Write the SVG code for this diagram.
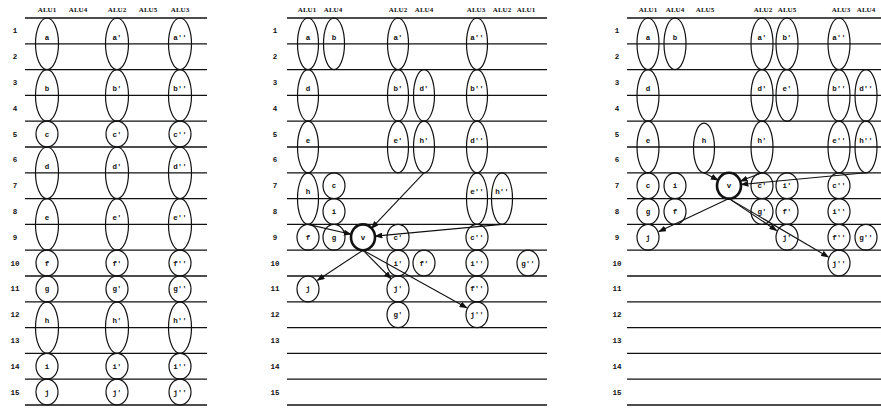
<svg xmlns="http://www.w3.org/2000/svg" width="881" height="409" viewBox="0 0 881 409">
<style>
.bg{fill:#fff}
.grid line{stroke:#111;stroke-width:1.3}
.n ellipse{fill:none;stroke:#111;stroke-width:1.2}
.v ellipse{fill:none;stroke:#111;stroke-width:2.6}
.n text,.v text{font-family:"Liberation Mono",monospace;font-size:7.5px;font-weight:bold;fill:#111;text-anchor:middle}
.hdr text{font-family:"Liberation Serif",serif;font-size:7px;font-weight:bold;fill:#111;text-anchor:middle}
.rows text{font-family:"Liberation Mono",monospace;font-size:7.5px;font-weight:bold;fill:#111;text-anchor:middle}
.conn line{stroke:#111;stroke-width:1.1;marker-end:url(#arr)}
</style>
<defs>
<marker id="arr" markerUnits="userSpaceOnUse" markerWidth="8" markerHeight="6" refX="7" refY="3" orient="auto"><path d="M0,0 L8,3 L0,6 z" fill="#111"/></marker>
</defs>
<rect class="bg" x="0" y="0" width="881" height="409"/>

<!-- grids -->
<g class="grid" id="grid1">
<line x1="25" y1="18" x2="207" y2="18"/><line x1="25" y1="43.8" x2="207" y2="43.8"/><line x1="25" y1="69.6" x2="207" y2="69.6"/><line x1="25" y1="95.4" x2="207" y2="95.4"/><line x1="25" y1="121.2" x2="207" y2="121.2"/><line x1="25" y1="147" x2="207" y2="147"/><line x1="25" y1="172.8" x2="207" y2="172.8"/><line x1="25" y1="198.6" x2="207" y2="198.6"/><line x1="25" y1="224.4" x2="207" y2="224.4"/><line x1="25" y1="250.2" x2="207" y2="250.2"/><line x1="25" y1="276" x2="207" y2="276"/><line x1="25" y1="301.8" x2="207" y2="301.8"/><line x1="25" y1="327.6" x2="207" y2="327.6"/><line x1="25" y1="353.4" x2="207" y2="353.4"/><line x1="25" y1="379.2" x2="207" y2="379.2"/><line x1="25" y1="405" x2="207" y2="405"/>
</g>
<g class="grid" id="grid2">
<line x1="287" y1="18" x2="547" y2="18"/><line x1="287" y1="43.8" x2="547" y2="43.8"/><line x1="287" y1="69.6" x2="547" y2="69.6"/><line x1="287" y1="95.4" x2="547" y2="95.4"/><line x1="287" y1="121.2" x2="547" y2="121.2"/><line x1="287" y1="147" x2="547" y2="147"/><line x1="287" y1="172.8" x2="547" y2="172.8"/><line x1="287" y1="198.6" x2="547" y2="198.6"/><line x1="287" y1="224.4" x2="547" y2="224.4"/><line x1="287" y1="250.2" x2="547" y2="250.2"/><line x1="287" y1="276" x2="547" y2="276"/><line x1="287" y1="301.8" x2="547" y2="301.8"/><line x1="287" y1="327.6" x2="547" y2="327.6"/><line x1="287" y1="353.4" x2="547" y2="353.4"/><line x1="287" y1="379.2" x2="547" y2="379.2"/><line x1="287" y1="405" x2="547" y2="405"/>
</g>
<g class="grid" id="grid3">
<line x1="627" y1="18" x2="881" y2="18"/><line x1="627" y1="43.8" x2="881" y2="43.8"/><line x1="627" y1="69.6" x2="881" y2="69.6"/><line x1="627" y1="95.4" x2="881" y2="95.4"/><line x1="627" y1="121.2" x2="881" y2="121.2"/><line x1="627" y1="147" x2="881" y2="147"/><line x1="627" y1="172.8" x2="881" y2="172.8"/><line x1="627" y1="198.6" x2="881" y2="198.6"/><line x1="627" y1="224.4" x2="881" y2="224.4"/><line x1="627" y1="250.2" x2="881" y2="250.2"/><line x1="627" y1="276" x2="881" y2="276"/><line x1="627" y1="301.8" x2="881" y2="301.8"/><line x1="627" y1="327.6" x2="881" y2="327.6"/><line x1="627" y1="353.4" x2="881" y2="353.4"/><line x1="627" y1="379.2" x2="881" y2="379.2"/><line x1="627" y1="405" x2="881" y2="405"/>
</g>

<!-- headers -->
<g class="hdr" id="hdr1"><text x="47" y="11.5">ALU1</text><text x="78" y="11.5">ALU4</text><text x="117" y="11.5">ALU2</text><text x="148" y="11.5">ALU5</text><text x="180" y="11.5">ALU3</text></g>
<g class="hdr" id="hdr2"><text x="307" y="11.5">ALU1</text><text x="333" y="11.5">ALU4</text><text x="398" y="11.5">ALU2</text><text x="424" y="11.5">ALU4</text><text x="476" y="11.5">ALU3</text><text x="502" y="11.5">ALU2</text><text x="526" y="11.5">ALU1</text></g>
<g class="hdr" id="hdr3"><text x="648" y="11.5">ALU1</text><text x="675" y="11.5">ALU4</text><text x="705" y="11.5">ALU5</text><text x="763" y="11.5">ALU2</text><text x="787" y="11.5">ALU5</text><text x="841" y="11.5">ALU3</text><text x="866" y="11.5">ALU4</text></g>

<!-- row numbers -->
<g class="rows" id="rows1"><text x="15" y="33.4">1</text><text x="15" y="59.2">2</text><text x="15" y="85">3</text><text x="15" y="110.8">4</text><text x="15" y="136.6">5</text><text x="15" y="162.4">6</text><text x="15" y="188.2">7</text><text x="15" y="214">8</text><text x="15" y="239.8">9</text><text x="15" y="265.6">10</text><text x="15" y="291.4">11</text><text x="15" y="317.2">12</text><text x="15" y="343">13</text><text x="15" y="368.8">14</text><text x="15" y="394.6">15</text></g>
<g class="rows" id="rows2"><text x="275" y="33.4">1</text><text x="275" y="59.2">2</text><text x="275" y="85">3</text><text x="275" y="110.8">4</text><text x="275" y="136.6">5</text><text x="275" y="162.4">6</text><text x="275" y="188.2">7</text><text x="275" y="214">8</text><text x="275" y="239.8">9</text><text x="275" y="265.6">10</text><text x="275" y="291.4">11</text><text x="275" y="317.2">12</text><text x="275" y="343">13</text><text x="275" y="368.8">14</text><text x="275" y="394.6">15</text></g>
<g class="rows" id="rows3"><text x="617" y="33.4">1</text><text x="617" y="59.2">2</text><text x="617" y="85">3</text><text x="617" y="110.8">4</text><text x="617" y="136.6">5</text><text x="617" y="162.4">6</text><text x="617" y="188.2">7</text><text x="617" y="214">8</text><text x="617" y="239.8">9</text><text x="617" y="265.6">10</text><text x="617" y="291.4">11</text><text x="617" y="317.2">12</text><text x="617" y="343">13</text><text x="617" y="368.8">14</text><text x="617" y="394.6">15</text></g>

<!-- panel 1 nodes -->
<g class="n" id="p1-a"><ellipse cx="47" cy="43.8" rx="11.5" ry="25.8"/><text x="47" y="39.5">a</text></g>
<g class="n" id="p1-b"><ellipse cx="47" cy="95.4" rx="11.5" ry="25.8"/><text x="47" y="91.1">b</text></g>
<g class="n" id="p1-c"><ellipse cx="47" cy="134.1" rx="11" ry="12.9"/><text x="47" y="136.6">c</text></g>
<g class="n" id="p1-d"><ellipse cx="47" cy="172.8" rx="11.5" ry="25.8"/><text x="47" y="168.5">d</text></g>
<g class="n" id="p1-e"><ellipse cx="47" cy="224.4" rx="11.5" ry="25.8"/><text x="47" y="220.1">e</text></g>
<g class="n" id="p1-f"><ellipse cx="47" cy="263.1" rx="11" ry="12.9"/><text x="47" y="265.6">f</text></g>
<g class="n" id="p1-g"><ellipse cx="47" cy="288.9" rx="11" ry="12.9"/><text x="47" y="291.4">g</text></g>
<g class="n" id="p1-h"><ellipse cx="47" cy="327.6" rx="11.5" ry="25.8"/><text x="47" y="323.3">h</text></g>
<g class="n" id="p1-i"><ellipse cx="47" cy="366.3" rx="11" ry="12.9"/><text x="47" y="368.8">i</text></g>
<g class="n" id="p1-j"><ellipse cx="47" cy="392.1" rx="11" ry="12.9"/><text x="47" y="394.6">j</text></g>

<g class="n" id="p1-a1"><ellipse cx="117" cy="43.8" rx="11.5" ry="25.8"/><text x="117" y="39.5">a'</text></g>
<g class="n" id="p1-b1"><ellipse cx="117" cy="95.4" rx="11.5" ry="25.8"/><text x="117" y="91.1">b'</text></g>
<g class="n" id="p1-c1"><ellipse cx="117" cy="134.1" rx="11" ry="12.9"/><text x="117" y="136.6">c'</text></g>
<g class="n" id="p1-d1"><ellipse cx="117" cy="172.8" rx="11.5" ry="25.8"/><text x="117" y="168.5">d'</text></g>
<g class="n" id="p1-e1"><ellipse cx="117" cy="224.4" rx="11.5" ry="25.8"/><text x="117" y="220.1">e'</text></g>
<g class="n" id="p1-f1"><ellipse cx="117" cy="263.1" rx="11" ry="12.9"/><text x="117" y="265.6">f'</text></g>
<g class="n" id="p1-g1"><ellipse cx="117" cy="288.9" rx="11" ry="12.9"/><text x="117" y="291.4">g'</text></g>
<g class="n" id="p1-h1"><ellipse cx="117" cy="327.6" rx="11.5" ry="25.8"/><text x="117" y="323.3">h'</text></g>
<g class="n" id="p1-i1"><ellipse cx="117" cy="366.3" rx="11" ry="12.9"/><text x="117" y="368.8">i'</text></g>
<g class="n" id="p1-j1"><ellipse cx="117" cy="392.1" rx="11" ry="12.9"/><text x="117" y="394.6">j'</text></g>

<g class="n" id="p1-a2"><ellipse cx="180" cy="43.8" rx="11.5" ry="25.8"/><text x="180" y="39.5">a''</text></g>
<g class="n" id="p1-b2"><ellipse cx="180" cy="95.4" rx="11.5" ry="25.8"/><text x="180" y="91.1">b''</text></g>
<g class="n" id="p1-c2"><ellipse cx="180" cy="134.1" rx="11" ry="12.9"/><text x="180" y="136.6">c''</text></g>
<g class="n" id="p1-d2"><ellipse cx="180" cy="172.8" rx="11.5" ry="25.8"/><text x="180" y="168.5">d''</text></g>
<g class="n" id="p1-e2"><ellipse cx="180" cy="224.4" rx="11.5" ry="25.8"/><text x="180" y="220.1">e''</text></g>
<g class="n" id="p1-f2"><ellipse cx="180" cy="263.1" rx="11" ry="12.9"/><text x="180" y="265.6">f''</text></g>
<g class="n" id="p1-g2"><ellipse cx="180" cy="288.9" rx="11" ry="12.9"/><text x="180" y="291.4">g''</text></g>
<g class="n" id="p1-h2"><ellipse cx="180" cy="327.6" rx="11.5" ry="25.8"/><text x="180" y="323.3">h''</text></g>
<g class="n" id="p1-i2"><ellipse cx="180" cy="366.3" rx="11" ry="12.9"/><text x="180" y="368.8">i''</text></g>
<g class="n" id="p1-j2"><ellipse cx="180" cy="392.1" rx="11" ry="12.9"/><text x="180" y="394.6">j''</text></g>

<!-- panel 2 nodes -->
<g class="n" id="p2-a"><ellipse cx="308" cy="43.8" rx="10.5" ry="25.8"/><text x="308" y="39.5">a</text></g>
<g class="n" id="p2-d"><ellipse cx="308" cy="95.4" rx="10.5" ry="25.8"/><text x="308" y="91.1">d</text></g>
<g class="n" id="p2-e"><ellipse cx="308" cy="147" rx="10.5" ry="25.8"/><text x="308" y="142.7">e</text></g>
<g class="n" id="p2-h"><ellipse cx="308" cy="198.6" rx="10.5" ry="25.8"/><text x="308" y="194.3">h</text></g>
<g class="n" id="p2-f"><ellipse cx="308" cy="237.3" rx="11" ry="12.9"/><text x="308" y="239.8">f</text></g>
<g class="n" id="p2-j"><ellipse cx="308" cy="288.9" rx="11" ry="12.9"/><text x="308" y="291.4">j</text></g>
<g class="n" id="p2-b"><ellipse cx="334" cy="43.8" rx="10.5" ry="25.8"/><text x="334" y="39.5">b</text></g>
<g class="n" id="p2-c"><ellipse cx="334" cy="185.7" rx="11" ry="12.9"/><text x="334" y="188.2">c</text></g>
<g class="n" id="p2-i"><ellipse cx="334" cy="211.5" rx="11" ry="12.9"/><text x="334" y="214">i</text></g>
<g class="n" id="p2-g"><ellipse cx="334" cy="237.3" rx="11" ry="12.9"/><text x="334" y="239.8">g</text></g>
<g class="v" id="p2-v"><ellipse cx="363" cy="237.3" rx="12" ry="12.9"/><text x="363" y="239.8">v</text></g>
<g class="n" id="p2-a1"><ellipse cx="398" cy="43.8" rx="10.5" ry="25.8"/><text x="398" y="39.5">a'</text></g>
<g class="n" id="p2-b1"><ellipse cx="398" cy="95.4" rx="10.5" ry="25.8"/><text x="398" y="91.1">b'</text></g>
<g class="n" id="p2-e1"><ellipse cx="398" cy="147" rx="10.5" ry="25.8"/><text x="398" y="142.7">e'</text></g>
<g class="n" id="p2-c1"><ellipse cx="398" cy="237.3" rx="11" ry="12.9"/><text x="398" y="239.8">c'</text></g>
<g class="n" id="p2-i1"><ellipse cx="398" cy="263.1" rx="11" ry="12.9"/><text x="398" y="265.6">i'</text></g>
<g class="n" id="p2-j1"><ellipse cx="398" cy="288.9" rx="11" ry="12.9"/><text x="398" y="291.4">j'</text></g>
<g class="n" id="p2-g1"><ellipse cx="398" cy="314.7" rx="11" ry="12.9"/><text x="398" y="317.2">g'</text></g>
<g class="n" id="p2-d1"><ellipse cx="424" cy="95.4" rx="10.5" ry="25.8"/><text x="424" y="91.1">d'</text></g>
<g class="n" id="p2-h1"><ellipse cx="424" cy="147" rx="10.5" ry="25.8"/><text x="424" y="142.7">h'</text></g>
<g class="n" id="p2-f1"><ellipse cx="424" cy="263.1" rx="11" ry="12.9"/><text x="424" y="265.6">f'</text></g>
<g class="n" id="p2-a2"><ellipse cx="477" cy="43.8" rx="10.5" ry="25.8"/><text x="477" y="39.5">a''</text></g>
<g class="n" id="p2-b2"><ellipse cx="477" cy="95.4" rx="10.5" ry="25.8"/><text x="477" y="91.1">b''</text></g>
<g class="n" id="p2-d2"><ellipse cx="477" cy="147" rx="10.5" ry="25.8"/><text x="477" y="142.7">d''</text></g>
<g class="n" id="p2-e2"><ellipse cx="477" cy="198.6" rx="10.5" ry="25.8"/><text x="477" y="194.3">e''</text></g>
<g class="n" id="p2-c2"><ellipse cx="477" cy="237.3" rx="11" ry="12.9"/><text x="477" y="239.8">c''</text></g>
<g class="n" id="p2-i2"><ellipse cx="477" cy="263.1" rx="11" ry="12.9"/><text x="477" y="265.6">i''</text></g>
<g class="n" id="p2-f2"><ellipse cx="477" cy="288.9" rx="11" ry="12.9"/><text x="477" y="291.4">f''</text></g>
<g class="n" id="p2-j2"><ellipse cx="477" cy="314.7" rx="11" ry="12.9"/><text x="477" y="317.2">j''</text></g>
<g class="n" id="p2-h2"><ellipse cx="502" cy="198.6" rx="10.5" ry="25.8"/><text x="502" y="194.3">h''</text></g>
<g class="n" id="p2-g2"><ellipse cx="528" cy="263.1" rx="11" ry="12.9"/><text x="528" y="265.6">g''</text></g>

<!-- panel 3 nodes -->
<g class="n" id="p3-a"><ellipse cx="648" cy="43.8" rx="11" ry="25.8"/><text x="648" y="39.5">a</text></g>
<g class="n" id="p3-d"><ellipse cx="648" cy="95.4" rx="11" ry="25.8"/><text x="648" y="91.1">d</text></g>
<g class="n" id="p3-e"><ellipse cx="648" cy="147" rx="11" ry="25.8"/><text x="648" y="142.7">e</text></g>
<g class="n" id="p3-c"><ellipse cx="648" cy="185.7" rx="11" ry="12.9"/><text x="648" y="188.2">c</text></g>
<g class="n" id="p3-g"><ellipse cx="648" cy="211.5" rx="11" ry="12.9"/><text x="648" y="214">g</text></g>
<g class="n" id="p3-j"><ellipse cx="648" cy="237.3" rx="11" ry="12.9"/><text x="648" y="239.8">j</text></g>
<g class="n" id="p3-b"><ellipse cx="675" cy="43.8" rx="11" ry="25.8"/><text x="675" y="39.5">b</text></g>
<g class="n" id="p3-i"><ellipse cx="675" cy="185.7" rx="11" ry="12.9"/><text x="675" y="188.2">i</text></g>
<g class="n" id="p3-f"><ellipse cx="675" cy="211.5" rx="11" ry="12.9"/><text x="675" y="214">f</text></g>
<g class="n" id="p3-h"><ellipse cx="704" cy="148" rx="10.5" ry="24.8"/><text x="704" y="142.7">h</text></g>
<g class="v" id="p3-v"><ellipse cx="729" cy="185.7" rx="12" ry="12.9"/><text x="729" y="188.2">v</text></g>
<g class="n" id="p3-a1"><ellipse cx="762" cy="43.8" rx="11" ry="25.8"/><text x="762" y="39.5">a'</text></g>
<g class="n" id="p3-d1"><ellipse cx="762" cy="95.4" rx="11" ry="25.8"/><text x="762" y="91.1">d'</text></g>
<g class="n" id="p3-h1"><ellipse cx="762" cy="147" rx="11" ry="25.8"/><text x="762" y="142.7">h'</text></g>
<g class="n" id="p3-c1"><ellipse cx="762" cy="185.7" rx="11" ry="12.9"/><text x="762" y="188.2">c'</text></g>
<g class="n" id="p3-g1"><ellipse cx="762" cy="211.5" rx="11" ry="12.9"/><text x="762" y="214">g'</text></g>
<g class="n" id="p3-b1"><ellipse cx="787" cy="43.8" rx="11" ry="25.8"/><text x="787" y="39.5">b'</text></g>
<g class="n" id="p3-e1"><ellipse cx="787" cy="95.4" rx="11" ry="25.8"/><text x="787" y="91.1">e'</text></g>
<g class="n" id="p3-i1"><ellipse cx="787" cy="185.7" rx="11" ry="12.9"/><text x="787" y="188.2">i'</text></g>
<g class="n" id="p3-f1"><ellipse cx="787" cy="211.5" rx="11" ry="12.9"/><text x="787" y="214">f'</text></g>
<g class="n" id="p3-j1"><ellipse cx="787" cy="237.3" rx="11" ry="12.9"/><text x="787" y="239.8">j'</text></g>
<g class="n" id="p3-a2"><ellipse cx="839" cy="43.8" rx="11" ry="25.8"/><text x="839" y="39.5">a''</text></g>
<g class="n" id="p3-b2"><ellipse cx="839" cy="95.4" rx="11" ry="25.8"/><text x="839" y="91.1">b''</text></g>
<g class="n" id="p3-e2"><ellipse cx="839" cy="147" rx="11" ry="25.8"/><text x="839" y="142.7">e''</text></g>
<g class="n" id="p3-c2"><ellipse cx="839" cy="185.7" rx="11" ry="12.9"/><text x="839" y="188.2">c''</text></g>
<g class="n" id="p3-i2"><ellipse cx="839" cy="211.5" rx="11" ry="12.9"/><text x="839" y="214">i''</text></g>
<g class="n" id="p3-f2"><ellipse cx="839" cy="237.3" rx="11" ry="12.9"/><text x="839" y="239.8">f''</text></g>
<g class="n" id="p3-j2"><ellipse cx="839" cy="263.1" rx="11" ry="12.9"/><text x="839" y="265.6">j''</text></g>
<g class="n" id="p3-d2"><ellipse cx="866" cy="95.4" rx="11" ry="25.8"/><text x="866" y="91.1">d''</text></g>
<g class="n" id="p3-h2"><ellipse cx="866" cy="147" rx="11" ry="25.8"/><text x="866" y="142.7">h''</text></g>
<g class="n" id="p3-g2"><ellipse cx="866" cy="237.3" rx="11" ry="12.9"/><text x="866" y="239.8">g''</text></g>

<!-- connectors -->
<g class="conn" id="connectors">
<line x1="308" y1="224.4" x2="350.8" y2="234.2"/>
<line x1="424" y1="172.8" x2="371.6" y2="228.2"/>
<line x1="502" y1="224.4" x2="375.4" y2="236.1"/>
<line x1="363" y1="250.2" x2="317.5" y2="280.3"/>
<line x1="363" y1="250.2" x2="391" y2="278.5"/>
<line x1="363" y1="250.2" x2="466.7" y2="307.7"/>
<line x1="704" y1="172.8" x2="717.9" y2="180"/>
<line x1="762" y1="172.8" x2="740.6" y2="181.1"/>
<line x1="866" y1="172.8" x2="741.4" y2="184.5"/>
<line x1="729" y1="198.6" x2="659" y2="231.5"/>
<line x1="729" y1="198.6" x2="776.5" y2="230.5"/>
<line x1="729" y1="198.6" x2="828.2" y2="256.9"/>
</g>
</svg>
